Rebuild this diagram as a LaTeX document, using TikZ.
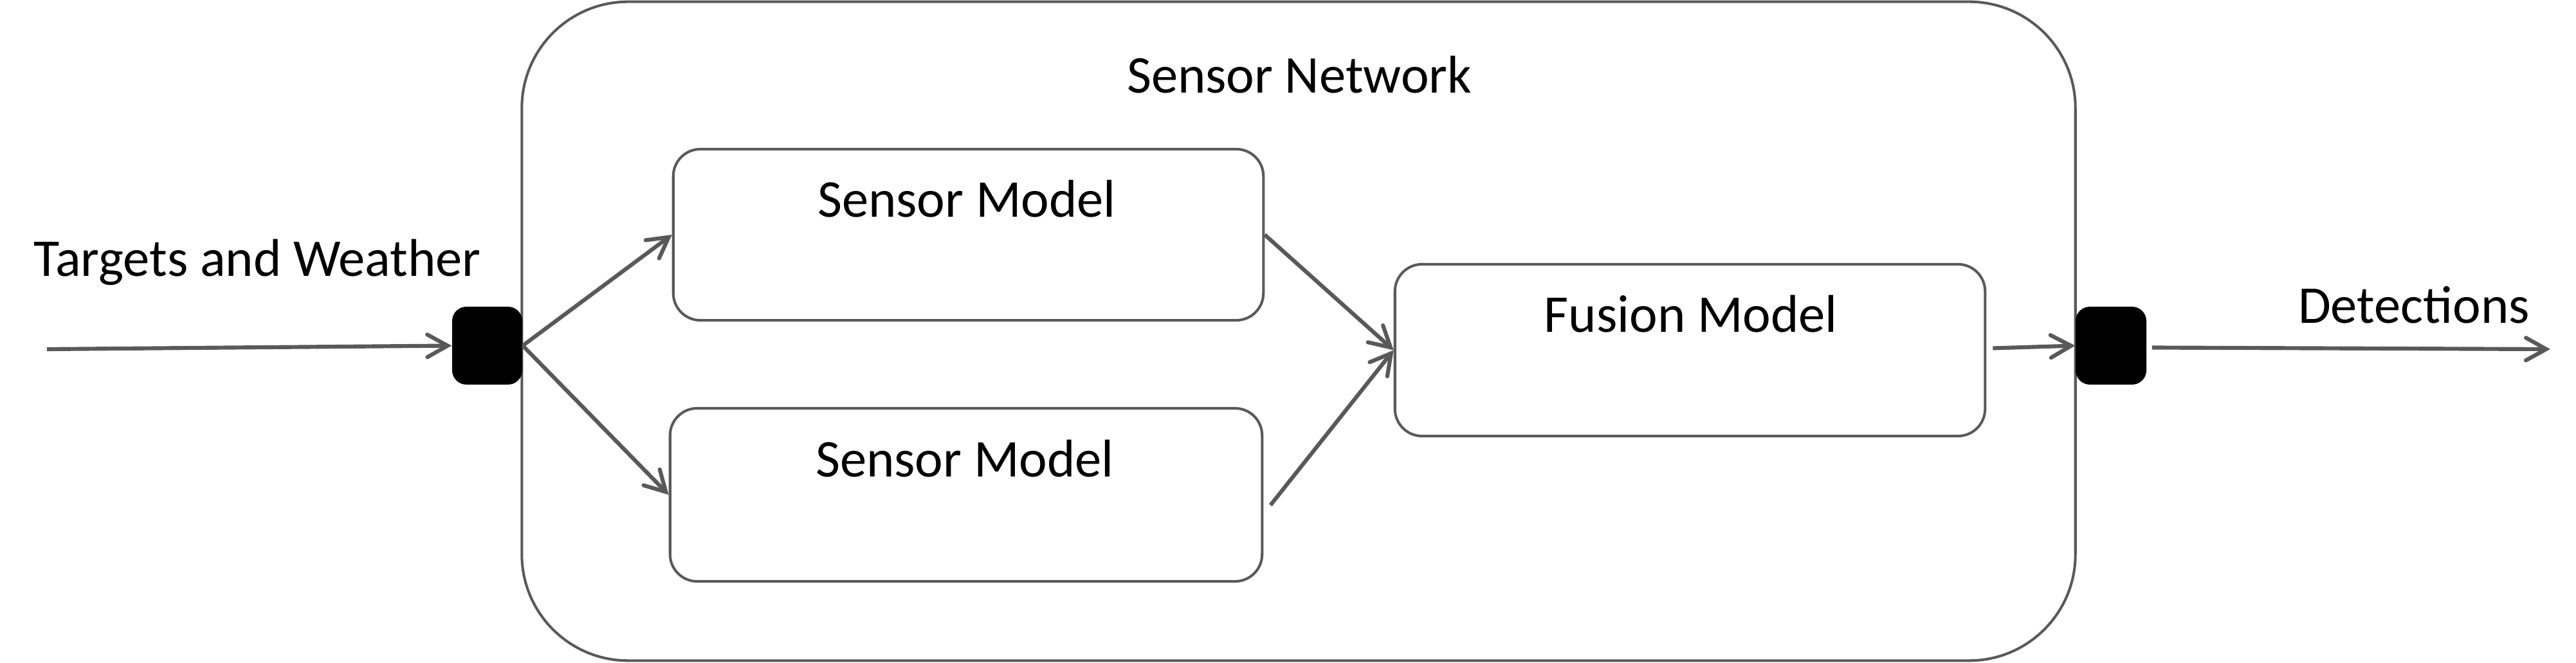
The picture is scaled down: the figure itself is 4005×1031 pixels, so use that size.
\documentclass[tikz,border=0pt]{standalone}
\usepackage{fontspec}
\setmainfont{Carlito}
\usetikzlibrary{arrows.meta,calc}
\definecolor{edgegray}{HTML}{595959}
\begin{document}
\begin{tikzpicture}[x=0.01cm,y=-0.01cm,
  box/.style={draw=edgegray, line width=1.15pt, rounded corners=12pt, fill=white, inner sep=0pt},
  port/.style={fill=black, draw=none, rounded corners=6.3pt, inner sep=0pt, minimum height=1.21cm},
  lbl/.style={font=\fontsize{23.5}{28}\selectfont, inner sep=0pt, anchor=base},
  arr/.style={draw=edgegray, line width=1.75pt, -{Straight Barb[length=9pt,width=10pt,line cap=round]}}]
\useasboundingbox (0,0) rectangle (4005,1031);
% containers and boxes
\node[box, rounded corners=47pt, minimum width=24.14cm, minimum height=10.24cm] (net) at (2019,515) {};
\node[box, minimum width=9.17cm, minimum height=2.66cm] (s1) at (1505.5,365) {};
\node[box, minimum width=9.20cm, minimum height=2.69cm] (s2) at (1502,769.5) {};
\node[box, minimum width=9.17cm, minimum height=2.67cm] (fu) at (2627.5,544.5) {};
\node[port, minimum width=1.09cm] (pL) at (757.5,537.5) {};
\node[port, minimum width=1.10cm] (pR) at (3282,537.5) {};
% labels
\node[lbl] (netlbl) at (2020,145) {Sensor Network};
\node[lbl] (s1lbl) at (1503,338) {Sensor Model};
\node[lbl] (s2lbl) at (1500,742) {Sensor Model};
\node[lbl] (fulbl) at (2629,517) {Fusion Model};
\node[lbl] (inlbl) at (400,430) {Targets and Weather};
\node[lbl] (outlbl) at (3753,503) {Detections};
% free ends
\coordinate (inStart) at (73,543);
\coordinate (outEnd) at (3965,543);
% connectors
\draw[arr] (inStart) -- (pL.west);
\draw[arr] (pL.east) -- (s1.west);
\draw[arr] (pL.east) -- (s2.west);
\draw[arr] (s1.east) -- (fu.west);
\draw[arr] ($(s2.east)+(11,16)$) -- (fu.west);
\draw[arr] ($(fu.east)+(10,-3)$) -- (pR.west);
\draw[arr] ($(pR.east)+(8,3)$) -- (outEnd);
\end{tikzpicture}
\end{document}
